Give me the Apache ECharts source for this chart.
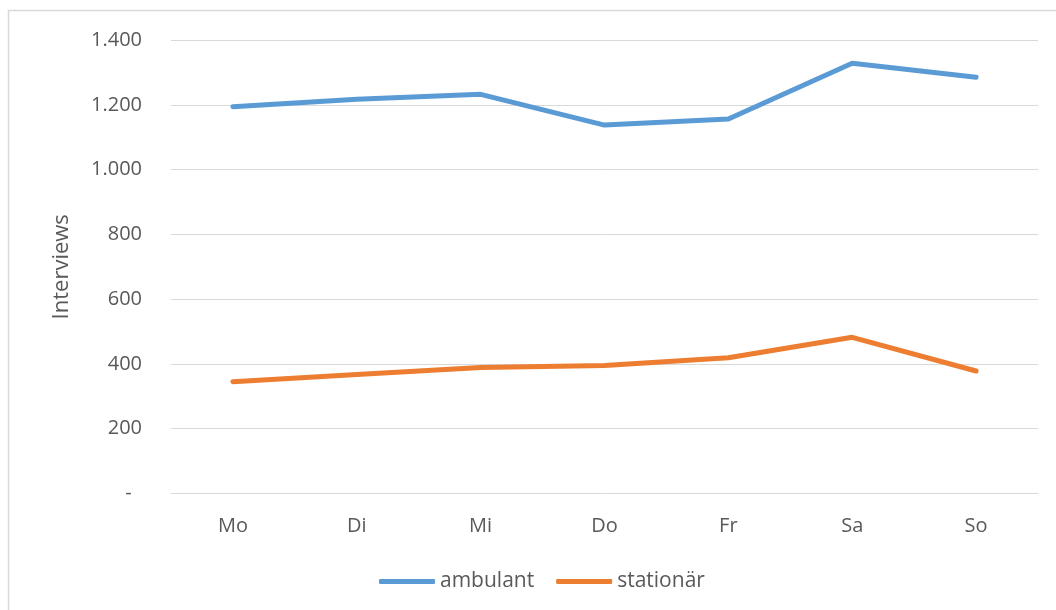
<!DOCTYPE html>
<html>
<head>
<meta charset="utf-8">
<script src="https://cdn.jsdelivr.net/npm/echarts@6/dist/echarts.min.js"></script>
<style>
html,body{margin:0;padding:0;background:#fff;}
#chart{width:1056px;height:610px;}
</style>
</head>
<body>
<div id="chart"></div>
<script>
var categories = ['Mo', 'Di', 'Mi', 'Do', 'Fr', 'Sa', 'So'];
var ambulant = [1195, 1218, 1233, 1138, 1157, 1329, 1286];
var stationaer = [345, 367, 389, 395, 419, 482, 378];
var seriesNames = ['ambulant', 'stationär'];
var yTicks = { min: 0, max: 1400, interval: 200 };
var axisTitle = 'Interviews';

function fmt(v) {
  if (v === 0) return '-  ';
  return String(v).replace(/\B(?=(\d{3})+(?!\d))/g, '.');
}

var chart = echarts.init(document.getElementById('chart'), null, { renderer: 'canvas' });
var textColor = '#595959';
var font = '"Open Sans", sans-serif';
chart.setOption({
  animation: false,
  backgroundColor: '#fff',
  graphic: [{
    type: 'rect',
    shape: { x: 8.5, y: 10.5, width: 1200, height: 800 },
    style: { fill: 'none', stroke: '#d9d9d9', lineWidth: 1.5 },
    silent: true
  }],
  grid: { left: 171, right: 18, top: 40.3, bottom: 116.7, containLabel: false },
  legend: {
    left: 374, top: 566,
    itemWidth: 56, itemHeight: 5, itemGap: 22,
    icon: 'roundRect',
    textStyle: { color: textColor, fontSize: 21, fontFamily: font },
    data: seriesNames
  },
  xAxis: {
    type: 'category',
    data: categories,
    boundaryGap: true,
    axisLine: { show: true, lineStyle: { color: '#d9d9d9', width: 1 } },
    axisTick: { show: false },
    axisLabel: { color: textColor, fontSize: 20, fontFamily: font, margin: 23 }
  },
  yAxis: {
    type: 'value',
    min: yTicks.min, max: yTicks.max, interval: yTicks.interval,
    name: axisTitle,
    nameLocation: 'middle',
    nameGap: 98,
    nameTextStyle: { color: textColor, fontSize: 22, fontFamily: font },
    axisLine: { show: false },
    axisTick: { show: false },
    splitLine: { lineStyle: { color: '#d9d9d9', width: 1 } },
    axisLabel: { color: textColor, fontSize: 20, fontFamily: font, margin: 29, formatter: fmt }
  },
  series: [{
    name: seriesNames[0],
    type: 'line',
    data: ambulant,
    symbol: 'none',
    showSymbol: false,
    lineStyle: { color: '#5B9BD5', width: 5, cap: 'round', join: 'round' },
    itemStyle: { color: '#5B9BD5' }
  }, {
    name: seriesNames[1],
    type: 'line',
    data: stationaer,
    symbol: 'none',
    showSymbol: false,
    lineStyle: { color: '#ED7D31', width: 5, cap: 'round', join: 'round' },
    itemStyle: { color: '#ED7D31' }
  }]
});
</script>
</body>
</html>
